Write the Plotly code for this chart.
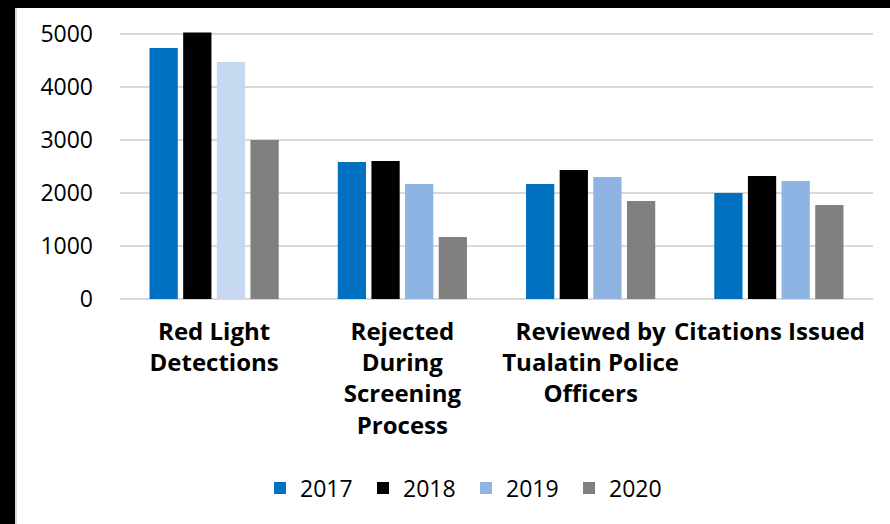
import plotly.graph_objects as go

categories = ["Red Light<br>Detections",
              "Rejected<br>During<br>Screening<br>Process",
              "Reviewed by<br>Tualatin Police<br>Officers",
              "Citations Issued"]
tick_labels = ["Red Light<br>Detections",
               "Rejected<br>During<br>Screening<br>Process",
               "Reviewed by<br>Tualatin Police<br>Officers",
               "Citations Issued\u00a0\u00a0\u00a0"]
years = ["2017", "2018", "2019", "2020"]
v2017 = [4736, 2585, 2170, 2000]
v2018 = [5030, 2604, 2434, 2321]
v2019 = [4472, 2170, 2302, 2226]
v2020 = [3000, 1170, 1849, 1774]
c2017 = "#0070C0"
c2018 = "#000000"
c2019 = ["#C6D9F1", "#8EB4E3", "#8EB4E3", "#8EB4E3"]
c2020 = "#808080"

W, H = 890, 524
ML, MR, MT, MB = 120, 17, 29, 225
ymax = 5094

fig = go.Figure()
for name, vals, col in [(years[0], v2017, c2017), (years[1], v2018, c2018),
                        (years[2], v2019, c2019), (years[3], v2020, c2020)]:
    if isinstance(col, list):
        # list the points starting from the second category so the legend swatch
        # takes the series' main colour; axis order is fixed by categoryarray
        xs = categories[1:] + categories[:1]
        ys = vals[1:] + vals[:1]
        cs = col[1:] + col[:1]
    else:
        xs, ys, cs = categories, vals, col
    fig.add_trace(go.Bar(name=name, x=xs, y=ys, marker=dict(color=cs, line=dict(width=0))))

pw = W - ML - MR
ph = H - MT - MB
def px_x(p):
    return (p - ML) / pw
def px_y(p):
    return (H - MB - p) / ph

fig.update_layout(
    width=W, height=H,
    margin=dict(l=ML, r=MR, t=MT, b=MB, pad=0, autoexpand=False),
    paper_bgcolor="white",
    plot_bgcolor="white",
    barmode="group",
    bargap=0.285,
    bargroupgap=0.16,
    font=dict(family="Open Sans", color="black"),
    showlegend=True,
    legend=dict(orientation="h", x=px_x(466), xanchor="center", y=px_y(488), yanchor="middle",
                font=dict(size=23, family="Open Sans"), traceorder="normal",
                bgcolor="rgba(0,0,0,0)", itemwidth=30, entrywidth=58),
    shapes=[
        dict(type="rect", xref="paper", yref="paper", x0=px_x(-5), x1=px_x(15),
             y0=px_y(H + 20), y1=px_y(-5), fillcolor="black", line=dict(width=0), layer="below"),
        dict(type="rect", xref="paper", yref="paper", x0=px_x(-5), x1=px_x(W + 20),
             y0=px_y(8), y1=px_y(-5), fillcolor="black", line=dict(width=0), layer="below"),
        dict(type="line", xref="paper", yref="paper", x0=px_x(16), x1=px_x(16),
             y0=px_y(H + 20), y1=px_y(8), line=dict(color="#D9D9D9", width=2), layer="below"),
    ],
)
fig.update_yaxes(range=[0, ymax], tickvals=[0, 1000, 2000, 3000, 4000, 5000],
                 showgrid=True, gridcolor="#D9D9D9", gridwidth=1.5,
                 zeroline=True, zerolinecolor="#D9D9D9", zerolinewidth=1.5,
                 showline=False, ticks="", ticklabelstandoff=26, automargin=False,
                 tickfont=dict(size=23, family="Open Sans", color="black"))
fig.update_xaxes(showgrid=False, showline=False, ticks="", ticklabelstandoff=16,
                 categoryorder="array", categoryarray=categories,
                 tickvals=categories, ticktext=tick_labels, automargin=False,
                 tickfont=dict(size=24, family="Open Sans", color="black", weight="bold"),
                 tickangle=0)

fig.write_html("out.html", config={"displayModeBar": False},
               post_script="document.documentElement.style.overflow='hidden';document.body.style.overflow='hidden';document.body.style.margin='0';document.body.style.background='white';")
